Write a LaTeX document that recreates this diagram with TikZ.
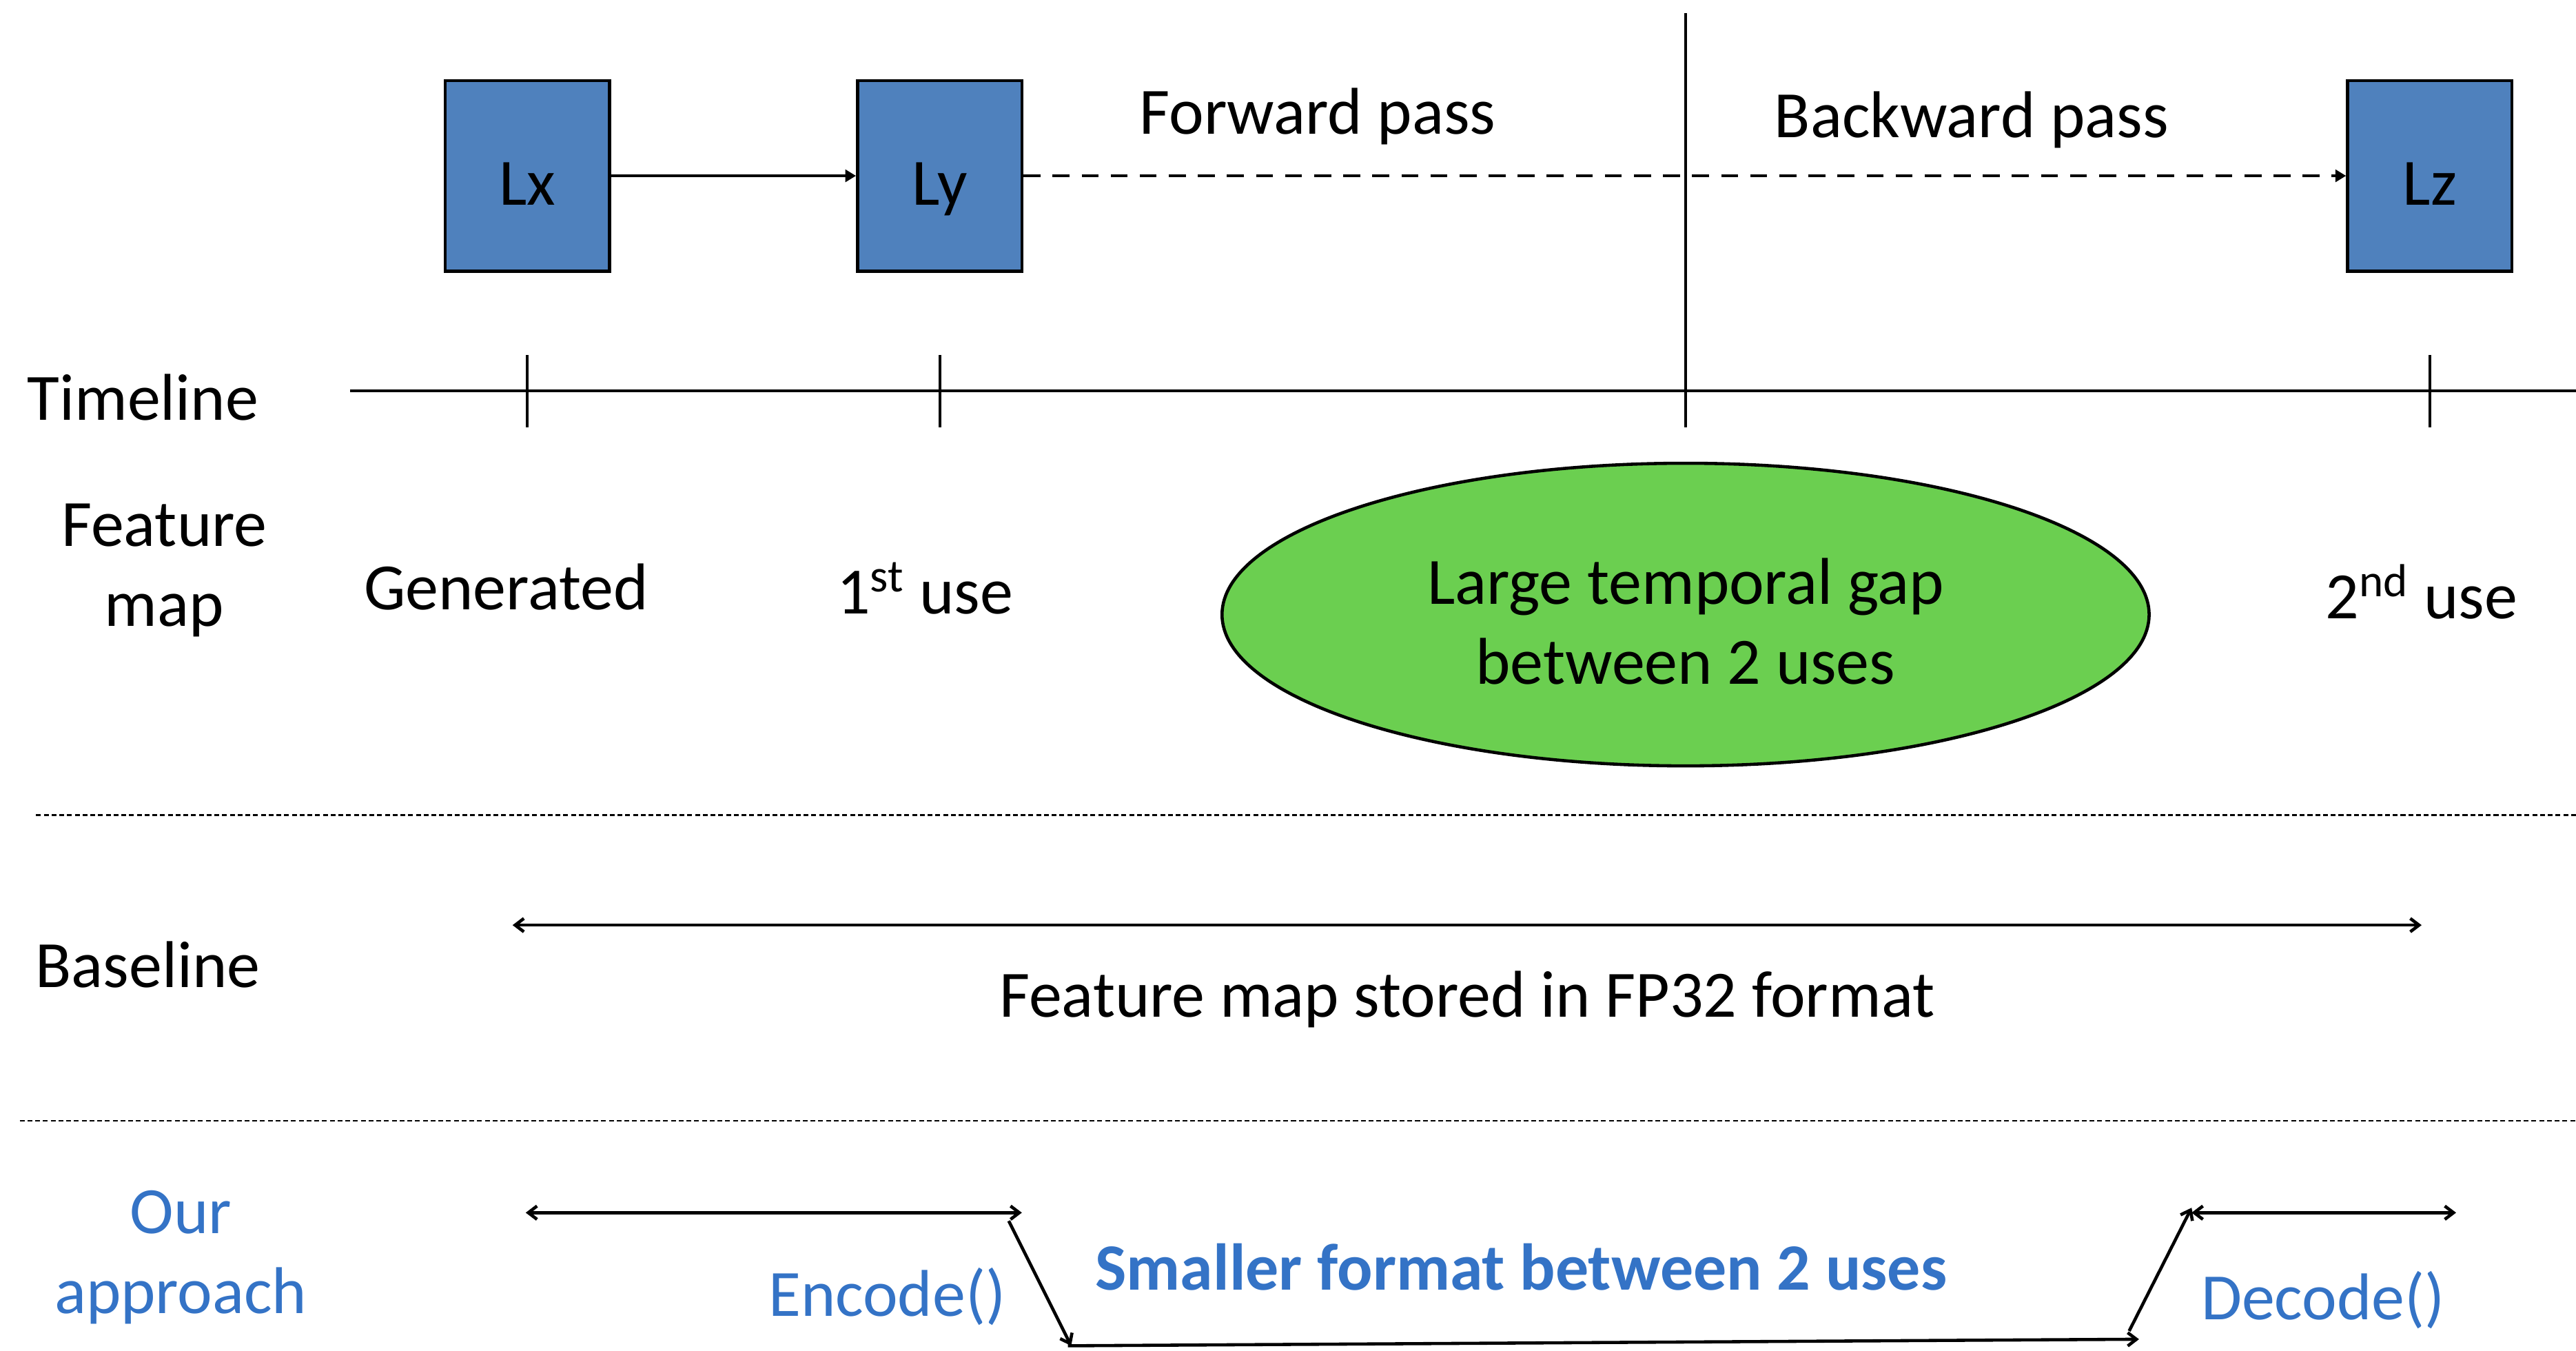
\documentclass[tikz,border=0pt]{standalone}
\usepackage{fontspec}
\setmainfont{Carlito}
\usetikzlibrary{arrows.meta,shapes.geometric}
\definecolor{boxblue}{RGB}{79,129,189}
\definecolor{txtblue}{RGB}{52,115,198}
\definecolor{gapgreen}{RGB}{107,207,80}

\begin{document}
\begin{tikzpicture}[x=0.02384cm,y=-0.02384cm,
  every node/.style={font=\fontsize{27.3}{33}\selectfont, inner sep=0pt, align=center},
  layerbox/.style={draw=black, line width=1.3pt, fill=boxblue,
    minimum width=2.384cm, minimum height=2.765cm,
    text height=24.4pt, text depth=0pt},
  gapshape/.style={ellipse, draw=black, line width=1.3pt, fill=gapgreen,
    minimum width=13.45cm, minimum height=4.39cm},
  blue text/.style={text=txtblue},
  solidtip/.style={-{Triangle[length=4.4pt,width=5pt]}, line width=1.2pt},
  dashedtip/.style={solidtip, dash pattern=on 7pt off 5pt},
  axis/.style={line width=1.2pt},
  separator/.style={line width=0.65pt, dash pattern=on 2pt off 1.2pt},
  span/.style={{Straight Barb[length=3.6pt,width=5.5pt]}-{Straight Barb[length=3.6pt,width=5.5pt]}, line width=1.3pt},
  step arrow/.style={-{Straight Barb[length=3.6pt,width=5.5pt]}, line width=1.3pt}
]
\useasboundingbox (0,0) rectangle (1568,822);

% layers
\node[layerbox] (lx) at (321,107) {Lx};
\node[layerbox] (ly) at (572,107) {Ly};
\node[layerbox] (lz) at (1479,107) {Lz};
\draw[solidtip] (lx.east) -- (ly.west);
\draw[dashedtip] (ly.east) -- (lz.west);

% forward / backward boundary
\coordinate (vtop) at (1026,8);
\coordinate (vbot) at (1026,260);
\draw[axis] (vtop) -- (vbot);
\node (fwd) at (802,71) {Forward pass};
\node (bwd) at (1200,73) {Backward pass};

% timeline
\node (tl) at (87,242) {Timeline};
\coordinate (tl0) at (213,238);
\coordinate (tl1) at (1568,238);
\draw[axis] (tl0) -- (tl1);
\foreach \x/\n in {321/ta,572/tb,1479/tc}{
  \coordinate (\n0) at (\x,216);
  \coordinate (\n1) at (\x,260);
  \draw[axis] (\n0) -- (\n1);
}

% feature map row
\node (fm) at (100,347) {Feature\\map};
\node (gen) at (308,357) {Generated};
\node (use1) at (563,358) {1\textsuperscript{st} use};
\node (use2) at (1474,360) {2\textsuperscript{nd} use};
\node[gapshape] (gap) at (1026,374) {};
\node (gaptxt) at (1026,378) {Large temporal gap\\between 2 uses};

% separators
\coordinate (sa0) at (22,496);
\coordinate (sa1) at (1568,496);
\coordinate (sb0) at (12,682);
\coordinate (sb1) at (1568,682);
\draw[separator] (sa0) -- (sa1);
\draw[separator] (sb0) -- (sb1);

% baseline
\node (base) at (90,587) {Baseline};
\coordinate (bl) at (312,563);
\coordinate (br) at (1474,563);
\draw[span] (bl) -- (br);
\node (fp32) at (893,608) {Feature map stored in FP32 format};

% our approach
\node[blue text] (ours) at (110,765) {Our\\approach};
\coordinate (e1) at (320,738);
\coordinate (e2) at (622,738);
\draw[span] (e1) -- (e2);
\coordinate (s1) at (614,743);
\coordinate (s2) at (652,819);
\draw[step arrow] (s1) -- (s2);
\coordinate (b1) at (650,819);
\coordinate (b2) at (1302,815);
\draw[step arrow] (b1) -- (b2);
\coordinate (u1) at (1296,810);
\coordinate (u2) at (1334,735);
\draw[step arrow] (u1) -- (u2);
\coordinate (d1) at (1334,738);
\coordinate (d2) at (1495,738);
\draw[span] (d1) -- (d2);
\node[blue text] (enc) at (540,789) {Encode()};
\node[blue text, font=\fontsize{27.3}{33}\selectfont\bfseries] (small) at (926,771) {Smaller format between 2 uses};
\node[blue text] (dec) at (1414,791) {Decode()};
\end{tikzpicture}
\end{document}
